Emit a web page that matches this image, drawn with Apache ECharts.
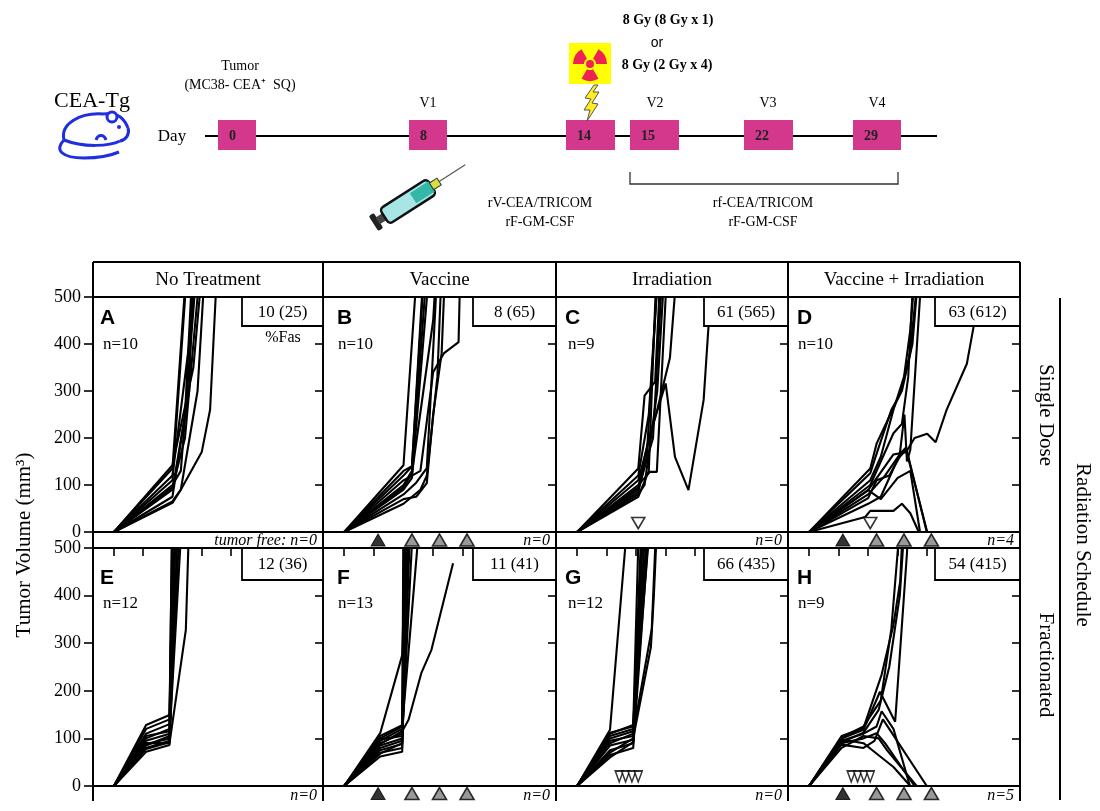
<!DOCTYPE html>
<html>
<head>
<meta charset="utf-8">
<title>Tumor volume panels</title>
<script src="https://cdn.jsdelivr.net/npm/echarts@6/dist/echarts.min.js"></script>
<style>
  html, body { margin: 0; padding: 0; background: #fff; }
  #main { width: 1100px; height: 811px; }
</style>
</head>
<body>
<div id="main"></div>
<script>
// ---- data: [day, tumor volume mm3] per mouse ----
var noTxSingle = [
  [[0,0],[14,135],[17,520],[17.5,600]],
  [[0,0],[14,110],[17.5,560]],
  [[0,0],[14,90],[18,300],[19,600]],
  [[0,0],[14,75],[17,250],[19,600]],
  [[0,0],[14,120],[18,400],[20,600]],
  [[0,0],[14,100],[16,130],[21,700]],
  [[0,0],[14,65],[16,90],[20,300],[22,600]],
  [[0,0],[14,62],[16,90],[21,170],[23,260],[24.3,494],[25,600]],
  [[0,0],[14,142],[19,350],[21,550]],
  [[0,0],[14,95],[17,200],[20,500],[21,600]]
];
var vacSingle = [
  [[0,0],[14,142],[17.5,600]],
  [[0,0],[14,120],[16,140],[19,600]],
  [[0,0],[14,100],[16,130],[19.5,560]],
  [[0,0],[14,90],[16,115],[20,550]],
  [[0,0],[14,80],[17,105],[19.5,136],[20.5,300],[22,560]],
  [[0,0],[14,70],[17,75],[19.5,104],[21,250],[23,380],[24,600]],
  [[0,0],[14,110],[18,130],[21,340],[23.5,380],[27,404],[27.5,600]],
  [[0,0],[14,95],[16,125],[21,450],[22,600]],
  [[0,0],[14,60],[18,90],[19.5,120],[22,330],[23,560]],
  [[0,0],[14,130],[16,140],[18.5,500],[19,600]]
];
var irrSingle = [
  [[0,0],[14.5,75],[17,130],[19,600]],
  [[0,0],[14.5,85],[16.5,160],[19.5,600]],
  [[0,0],[14.5,90],[18,200],[20.5,600]],
  [[0,0],[14.5,120],[17,250],[19.5,600]],
  [[0,0],[14.5,80],[16,100],[19,300],[21,600]],
  [[0,0],[14.5,100],[17.3,128],[18.9,128],[21,500],[21.5,600]],
  [[0,0],[14.5,135],[16,290],[18.5,320],[20,600]],
  [[0,0],[14.5,95],[17,200],[21,316],[23.2,160],[26.4,89],[30,281],[31.2,444],[32,600]],
  [[0,0],[14.5,110],[19,260],[22,370],[24,600]]
];
var comboSingle = [
  [[0,0],[14.5,135],[16,188],[19.2,249],[21.6,294],[23.9,379],[25.5,520]],
  [[0,0],[14.5,125],[16.5,180],[19.5,260],[22,300],[24.5,400],[26,560]],
  [[0,0],[14.5,110],[17,160],[20,260],[22.5,330],[24,430],[25,540]],
  [[0,0],[14,89],[20,165],[23,170],[25,200],[28,209],[30,191],[32.6,260],[37.4,358],[39,437],[41,540]],
  [[0,0],[14,80],[18,120],[21.5,165],[22.6,250],[23.2,150],[24,175],[27,600]],
  [[0,0],[14,72],[16,110],[19,120],[21.5,160],[23,175],[28,0]],
  [[0,0],[14,89],[17,70],[21,115],[24,130],[26.3,0]],
  [[0,0],[13.3,32],[14.5,45],[20,45],[22,60],[24,40],[26,0]],
  [[0,0],[14,60],[17,75],[21.6,167],[23,180],[27.9,0]],
  [[0,0],[14.5,100],[17,150],[20,210],[22,230],[23.5,330],[25,600]]
];
var noTxFrac = [
  [[0,0],[7.7,128],[13.3,149],[14,600]],
  [[0,0],[7.7,110],[13.3,130],[14,600]],
  [[0,0],[7.7,100],[13.3,120],[14.2,600]],
  [[0,0],[7.7,95],[13.3,110],[14.5,600]],
  [[0,0],[7.7,88],[13.3,100],[14.8,600]],
  [[0,0],[7.7,80],[13.3,95],[15,600]],
  [[0,0],[7.7,72],[13.3,86],[15.5,600]],
  [[0,0],[7.7,85],[13.3,105],[16.5,600]],
  [[0,0],[7.7,90],[13.3,90],[17.2,328],[18,560]],
  [[0,0],[7.7,105],[13.3,115],[16,600]],
  [[0,0],[7.7,120],[13.3,140],[14.3,600]],
  [[0,0],[7.7,78],[13.3,92],[14.6,600]]
];
var vacFrac = [
  [[0,0],[8.5,111],[13.7,275],[14.5,520]],
  [[0,0],[8.5,105],[13.7,128],[14.2,600]],
  [[0,0],[8.5,95],[13.7,120],[14.5,600]],
  [[0,0],[8.5,90],[13.7,110],[14.8,600]],
  [[0,0],[8.5,85],[13.7,100],[15,600]],
  [[0,0],[8.5,80],[13.7,95],[15.2,600]],
  [[0,0],[8.5,75],[13.7,88],[15.5,600]],
  [[0,0],[8.5,70],[13.7,80],[14.6,600]],
  [[0,0],[8.5,62],[13.7,72],[14,600]],
  [[0,0],[8.5,100],[13.7,125],[18.2,600]],
  [[0,0],[8.5,88],[13.7,115],[15.2,139],[18.2,237],[20.6,286],[25.7,468]],
  [[0,0],[8.5,98],[13.7,105],[16.5,600]],
  [[0,0],[8.5,68],[13.7,90],[15.8,600]]
];
var irrFrac = [
  [[0,0],[7.8,118],[11.4,500],[11.6,530]],
  [[0,0],[7.8,110],[13.3,128],[15,400],[15.5,600]],
  [[0,0],[7.8,100],[13.3,115],[15.5,600]],
  [[0,0],[7.8,95],[13.3,105],[16,600]],
  [[0,0],[7.8,85],[13.3,97],[16.5,600]],
  [[0,0],[7.8,75],[13.3,90],[17,600]],
  [[0,0],[7.8,65],[13.3,80],[17.5,600]],
  [[0,0],[7.8,70],[13.3,100],[17.5,292],[18.2,400],[19.2,600]],
  [[0,0],[7.8,90],[13.3,110],[17.7,330],[19,600]],
  [[0,0],[7.8,105],[13.3,120],[16.8,500],[17.5,600]],
  [[0,0],[7.8,60],[13.3,92],[16,450],[18,600]],
  [[0,0],[7.8,112],[13.3,125],[14.8,600]]
];
var comboFrac = [
  [[0,0],[7.7,105],[12.9,122],[17.2,234],[20,339],[21.6,430],[22.5,600]],
  [[0,0],[7.7,100],[12.9,118],[16.8,198],[20.4,135],[23.2,489],[23.5,560]],
  [[0,0],[7.7,95],[12.9,110],[16,125],[17.2,157],[20,120],[23.9,0]],
  [[0,0],[7.7,90],[12.9,100],[16,111],[18,90],[25,0]],
  [[0,0],[7.7,87],[12.9,80],[15.5,95],[17.5,140],[19,120],[27.9,0]],
  [[0,0],[7.7,98],[12.9,90],[15,75],[20,40],[24,0]],
  [[0,0],[7.7,80],[12.9,105],[16.5,100],[18.5,75],[25.5,0]],
  [[0,0],[7.7,102],[12.9,125],[17,180],[19.5,330],[22,600]],
  [[0,0],[7.7,92],[12.9,112],[16.5,160],[19,250],[21.5,400],[23,600]]
];

var columnTitles = ['No Treatment', 'Vaccine', 'Irradiation', 'Vaccine + Irradiation'];
var rowTitles = ['Single Dose', 'Fractionated'];
var panelLetters = ['A','B','C','D','E','F','G','H'];
var mouseCounts = ['n=10','n=10','n=9','n=10','n=12','n=13','n=12','n=9'];
var fasLabels = ['10 (25)','8 (65)','61 (565)','63 (612)','12 (36)','11 (41)','66 (435)','54 (415)'];
var tumorFree = ['tumor free: n=0','n=0','n=0','n=4','n=0','n=0','n=0','n=5'];
var dayTicks = [0, 7, 14, 21, 28, 35, 42, 49];
var primeDay = [8];
var boostDays = [16, 22.5, 29];
var irrSingleDays = [14.5];
var irrFracDays = [10, 11.5, 13, 14.5];
var vaccinePanels = [1, 3, 5, 7];
var irrPanels = [2, 3, 6, 7];

var scheduleDays = ['0','8','14','15','22','29'];
var vaccineLabels = ['V1','V2','V3','V4'];

// ---- layout ----
var colLeft = [93, 323, 556, 788];
var colWidth = [230, 233, 232, 232];
var rowTop = [297, 548];
var rowHeight = [235, 238];
var stripHeight = [16, 15];
var serif = '"Liberation Serif", "Times New Roman", serif';
var sans = '"Liberation Sans", Arial, sans-serif';

var grids = [], xAxes = [], yAxes = [], series = [], graphics = [];
var panels = [noTxSingle, vacSingle, irrSingle, comboSingle, noTxFrac, vacFrac, irrFrac, comboFrac];

for (var g = 0; g < 8; g++) {
  var r = Math.floor(g / 4), c = g % 4;
  grids.push({left: colLeft[c], top: rowTop[r], width: colWidth[c], height: rowHeight[r]});
  var xt = {show: r === 1, inside: true, length: 8, lineStyle: {color: '#000', width: 1.6}};
  if (r === 1) xt.customValues = dayTicks;
  xAxes.push({
    type: 'value', gridIndex: g, min: -5, max: 50, position: 'top',
    axisLine: {show: false, onZero: false}, splitLine: {show: false}, axisLabel: {show: false},
    axisTick: xt
  });
  yAxes.push({
    type: 'value', gridIndex: g, min: 0, max: 500, interval: 100, position: 'right',
    axisLine: {show: false, onZero: false}, splitLine: {show: false}, axisLabel: {show: false},
    axisTick: {show: true, inside: true, length: 8, lineStyle: {color: '#000', width: 1.6}}
  });
}
// strips under each panel for the vaccination markers
for (var g = 0; g < 8; g++) {
  var r = Math.floor(g / 4), c = g % 4;
  grids.push({left: colLeft[c], top: rowTop[r] + rowHeight[r], width: colWidth[c], height: stripHeight[r]});
  xAxes.push({type: 'value', gridIndex: 8 + g, min: -5, max: 50, show: false});
  yAxes.push({type: 'value', gridIndex: 8 + g, min: 0, max: 1, show: false});
}
// labelled left axes of the first column
[0, 4].forEach(function (g) {
  yAxes.push({
    type: 'value', gridIndex: g, min: 0, max: 500, interval: 100, position: 'left',
    axisLine: {show: false, onZero: false}, splitLine: {show: false},
    axisTick: {show: true, length: 9, lineStyle: {color: '#000', width: 1.6}},
    axisLabel: {show: true, color: '#000', fontFamily: serif, fontSize: 18, margin: 12}
  });
});

panels.forEach(function (curves, g) {
  curves.forEach(function (pts) {
    series.push({
      type: 'line', xAxisIndex: g, yAxisIndex: g, data: pts, showSymbol: false,
      silent: true, clip: true,
      lineStyle: {color: '#000', width: 2.1}
    });
  });
});

vaccinePanels.forEach(function (g) {
  series.push({
    type: 'scatter', xAxisIndex: 8 + g, yAxisIndex: 8 + g, symbol: 'triangle', symbolSize: [14, 12],
    data: primeDay.map(function (d) { return [d, 0.5]; }), silent: true,
    itemStyle: {color: '#000', borderColor: '#000', borderWidth: 1}
  });
  series.push({
    type: 'scatter', xAxisIndex: 8 + g, yAxisIndex: 8 + g, symbol: 'triangle', symbolSize: [14, 12],
    data: boostDays.map(function (d) { return [d, 0.5]; }), silent: true,
    itemStyle: {color: '#808080', borderColor: '#000', borderWidth: 1.6}
  });
});

irrPanels.forEach(function (g) {
  var single = g < 4;
  var ds = single ? irrSingleDays : irrFracDays;
  series.push({
    type: 'scatter', xAxisIndex: g, yAxisIndex: g, symbol: 'triangle', symbolRotate: 180,
    symbolSize: single ? [13, 11] : [8, 11], z: 5,
    data: ds.map(function (d) { return [d, single ? 19 : 20]; }), silent: true,
    itemStyle: {color: '#fff', borderColor: '#000', borderWidth: 1.6}
  });
});

// ---- graphic helpers ----
function txt(x, y, s, o) {
  o = o || {};
  graphics.push({
    type: 'text', x: x, y: y, z: 100, rotation: o.rotation || 0,
    style: {
      text: s, fill: o.color || '#000',
      font: (o.style || 'normal') + ' ' + (o.weight || 'normal') + ' ' + (o.size || 16) + 'px ' + (o.family || serif),
      align: o.align || 'center', textAlign: o.align || 'center',
      verticalAlign: 'middle', textVerticalAlign: 'middle'
    }
  });
}
function seg(x1, y1, x2, y2, w, col) {
  graphics.push({type: 'line', z: 90, shape: {x1: x1, y1: y1, x2: x2, y2: y2},
                 style: {stroke: col || '#000', lineWidth: w || 2}});
}
function box(x1, y1, x2, y2, fill, stroke, w) {
  var st = {fill: fill};
  if (stroke) { st.stroke = stroke; st.lineWidth = w; }
  graphics.push({type: 'rect', z: 95, shape: {x: x1, y: y1, width: x2 - x1, height: y2 - y1}, style: st});
}
function curve(p, col, w) {
  graphics.push({type: 'bezierCurve', z: 96,
    shape: {x1: p[0], y1: p[1], cpx1: p[2], cpy1: p[3], cpx2: p[4], cpy2: p[5], x2: p[6], y2: p[7]},
    style: {stroke: col, lineWidth: w, fill: 'none'}});
}

// frame of the panel grid
[262, 297, 532, 548, 786].forEach(function (y) { seg(93, y, 1020, y, 2); });
[93, 323, 556, 788, 1020].forEach(function (x) { seg(x, 262, x, 801, 2); });

columnTitles.forEach(function (t, c) {
  txt(colLeft[c] + colWidth[c] / 2, 280, t, {size: 19});
});

var letterOff = [7, 14, 9, 9], nOff = [10, 15, 12, 10];
var boxLeft = [242, 473, 704, 935];
for (var g = 0; g < 8; g++) {
  var r = Math.floor(g / 4), c = g % 4;
  var pTop = rowTop[r], pRight = colLeft[c] + colWidth[c];
  txt(colLeft[c] + letterOff[c], pTop + (r ? 30 : 21), panelLetters[g],
      {family: sans, weight: 'bold', size: 21, align: 'left'});
  txt(colLeft[c] + nOff[c], pTop + (r ? 56 : 48), mouseCounts[g], {size: 17, align: 'left'});
  var bh = r ? 32 : 29;
  box(boxLeft[c], pTop, pRight, pTop + bh, '#fff', '#000', 1.8);
  txt((boxLeft[c] + pRight) / 2, pTop + bh / 2 + 1, fasLabels[g], {size: 17});
  txt(pRight - 6, pTop + rowHeight[r] + (r ? 10 : 9), tumorFree[g], {size: 16, style: 'italic', align: 'right'});
}
txt(283, 338, '%Fas', {size: 16});

// axis title and row labels
txt(24, 545, 'Tumor Volume (mm³)', {size: 21, rotation: Math.PI / 2});
txt(1046, 415, rowTitles[0], {size: 21, rotation: -Math.PI / 2});
txt(1046, 665, rowTitles[1], {size: 21, rotation: -Math.PI / 2});
seg(1060, 298, 1060, 800, 2);
txt(1083, 545, 'Radiation Schedule', {size: 21, rotation: -Math.PI / 2});

// ---- treatment schedule on top ----
txt(92, 101, 'CEA-Tg', {size: 22});
txt(172, 137, 'Day', {size: 17});
seg(205, 136, 937, 136, 2);
var dayBoxes = [[218, 256], [409, 447], [566, 615], [630, 679], [744, 793], [853, 901]];
dayBoxes.forEach(function (b, i) {
  box(b[0], 120, b[1], 150, '#d4388c');
  txt(b[0] + 11, 136, scheduleDays[i], {size: 14, align: 'left', weight: 'bold', color: '#222'});
});
txt(240, 66, 'Tumor', {size: 14});
txt(240, 85, '(MC38- CEA⁺  SQ)', {size: 14});
txt(428, 103, vaccineLabels[0], {size: 14});
txt(655, 103, vaccineLabels[1], {size: 14});
txt(768, 103, vaccineLabels[2], {size: 14});
txt(877, 103, vaccineLabels[3], {size: 14});
txt(668, 20, '8 Gy (8 Gy x 1)', {size: 14, weight: 'bold'});
txt(657, 43, 'or', {size: 14, family: sans});
txt(667, 65, '8 Gy (2 Gy x 4)', {size: 14, weight: 'bold'});
graphics.push({type: 'polyline', z: 90, shape: {points: [[630, 172], [630, 184], [898, 184], [898, 172]]},
               style: {stroke: '#333', lineWidth: 1.3}});
txt(540, 203, 'rV-CEA/TRICOM', {size: 14});
txt(540, 222, 'rF-GM-CSF', {size: 14});
txt(763, 203, 'rf-CEA/TRICOM', {size: 14});
txt(763, 222, 'rF-GM-CSF', {size: 14});

// radiation sign
box(569, 43, 611, 84, '#ffff00');
[-150, -30, 90].forEach(function (a) {
  var rad = a * Math.PI / 180;
  graphics.push({type: 'sector', z: 96, shape: {cx: 590, cy: 64, r: 17, r0: 6,
                 startAngle: rad - Math.PI / 6, endAngle: rad + Math.PI / 6},
                 style: {fill: '#ee2255'}});
});
graphics.push({type: 'circle', z: 96, shape: {cx: 590, cy: 64, r: 4}, style: {fill: '#ee2255'}});
graphics.push({type: 'polygon', z: 96, shape: {points: [[594, 85], [585, 98], [591, 99], [584, 110], [590, 110],
               [587, 121], [598, 104], [592, 103], [599, 92], [593, 92], [598, 85]]},
               style: {fill: '#ffee22', stroke: '#555', lineWidth: 1}});

// syringe
graphics.push({type: 'group', x: 376, y: 222, rotation: 0.57, z: 96, children: [
  {type: 'rect', shape: {x: -3, y: -9, width: 6, height: 18, r: 2}, style: {fill: '#222'}},
  {type: 'rect', shape: {x: 2, y: -4, width: 10, height: 8}, style: {fill: '#444'}},
  {type: 'rect', shape: {x: 10, y: -9, width: 56, height: 18, r: 4}, style: {fill: '#a8e6e6', stroke: '#111', lineWidth: 2.5}},
  {type: 'rect', shape: {x: 44, y: -6, width: 22, height: 12}, style: {fill: '#33b7a6'}},
  {type: 'rect', shape: {x: 66, y: -4, width: 9, height: 8}, style: {fill: '#d8e040', stroke: '#333', lineWidth: 1}},
  {type: 'line', shape: {x1: 75, y1: 0, x2: 106, y2: 0}, style: {stroke: '#555', lineWidth: 1.2}}
]});

// mouse outline
var blue = '#1f2fe0';
[[64,140, 60,124, 80,112, 104,114], [104,114, 116,112, 124,118, 128,128],
 [128,128, 130,134, 126,140, 120,141], [120,141, 110,146, 84,148, 64,140],
 [64,140, 54,150, 62,158, 84,158], [84,158, 100,158, 112,155, 119,152],
 [96,140, 98,134, 104,134, 106,140]].forEach(function (p) { curve(p, blue, 3); });
graphics.push({type: 'circle', z: 96, shape: {cx: 112, cy: 117, r: 5}, style: {fill: '#fff', stroke: blue, lineWidth: 3}});
graphics.push({type: 'circle', z: 96, shape: {cx: 119, cy: 127, r: 2}, style: {fill: blue}});

var chart = echarts.init(document.getElementById('main'));
chart.setOption({
  animation: false,
  backgroundColor: '#fff',
  grid: grids,
  xAxis: xAxes,
  yAxis: yAxes,
  series: series,
  graphic: {elements: graphics}
});
</script>
</body>
</html>
